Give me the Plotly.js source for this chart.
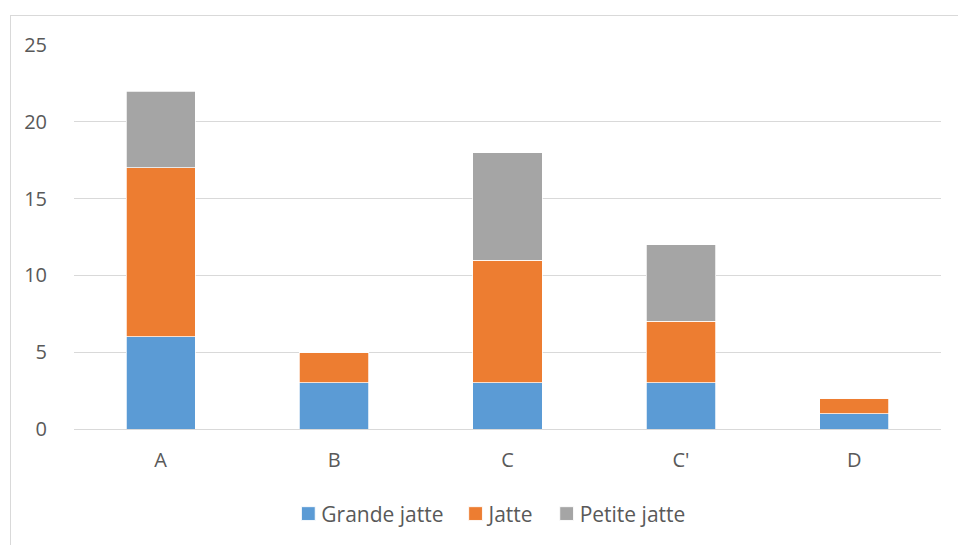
<!DOCTYPE html>
<html>
<head>
<meta charset="utf-8">
<script src="https://cdn.plot.ly/plotly-3.0.1.min.js"></script>
<style>
  html, body { margin: 0; padding: 0; background: #fff; }
  #wrap { position: relative; width: 958px; height: 545px; overflow: hidden; }
  #chart { width: 958px; height: 545px; }
  #frame { position: absolute; left: 10px; top: 15px; width: 1000px; height: 600px;
           border: 1px solid #d9d9d9; pointer-events: none; box-sizing: border-box; }
</style>
</head>
<body>
<div id="wrap">
  <div id="chart"></div>
  <div id="frame"></div>
</div>
<script>
const categories = ["A", "B", "C", "C'", "D"];
const grandeJatte = [6, 3, 3, 3, 1];
const jatte = [11, 2, 8, 4, 1];
const petiteJatte = [5, 0, 7, 5, 0];
const seriesNames = ["Grande jatte", "Jatte", "Petite jatte"];
const seriesColors = ["#5B9BD5", "#ED7D31", "#A5A5A5"];

const allSeries = [grandeJatte, jatte, petiteJatte];
const traces = allSeries.map((vals, i) => ({
  type: "bar",
  name: seriesNames[i],
  x: categories,
  y: vals,
  marker: { color: seriesColors[i], line: { color: "#ffffff", width: 0.75 } },
  hoverinfo: "x+y+name"
}));

const tickFont = { family: "Open Sans, Liberation Sans, sans-serif", size: 20, color: "#595959" };
const legendFont = { family: "Open Sans, Liberation Sans, sans-serif", size: 21, color: "#595959" };

const layout = {
  width: 958,
  height: 545,
  margin: { l: 74, r: 17, t: 45, b: 115 },
  barmode: "stack",
  bargap: 0.6,
  paper_bgcolor: "rgba(0,0,0,0)",
  plot_bgcolor: "#ffffff",
  font: tickFont,
  showlegend: true,
  legend: {
    orientation: "h",
    x: 0.475, xanchor: "center",
    y: -0.218, yanchor: "middle",
    font: legendFont,
    traceorder: "normal"
  },
  xaxis: {
    type: "category",
    showgrid: false,
    showline: false,
    zeroline: false,
    ticks: "outside",
    ticklen: 13,
    tickcolor: "rgba(0,0,0,0)",
    tickfont: tickFont
  },
  yaxis: {
    range: [0, 25],
    dtick: 5,
    showgrid: true,
    gridcolor: "#d9d9d9",
    gridwidth: 1,
    zeroline: true,
    zerolinecolor: "#d9d9d9",
    zerolinewidth: 1,
    showline: false,
    ticks: "outside",
    ticklen: 22,
    tickcolor: "rgba(0,0,0,0)",
    tickfont: tickFont
  }
};

Plotly.newPlot("chart", traces, layout, { displayModeBar: false, staticPlot: true }).then(gd => {
  // tighten legend symbol-to-text spacing like the original
  gd.querySelectorAll(".legend .traces .legendsymbols").forEach(g => {
    g.setAttribute("transform", "translate(4,0) scale(1.15)");
  });
});
</script>
</body>
</html>
